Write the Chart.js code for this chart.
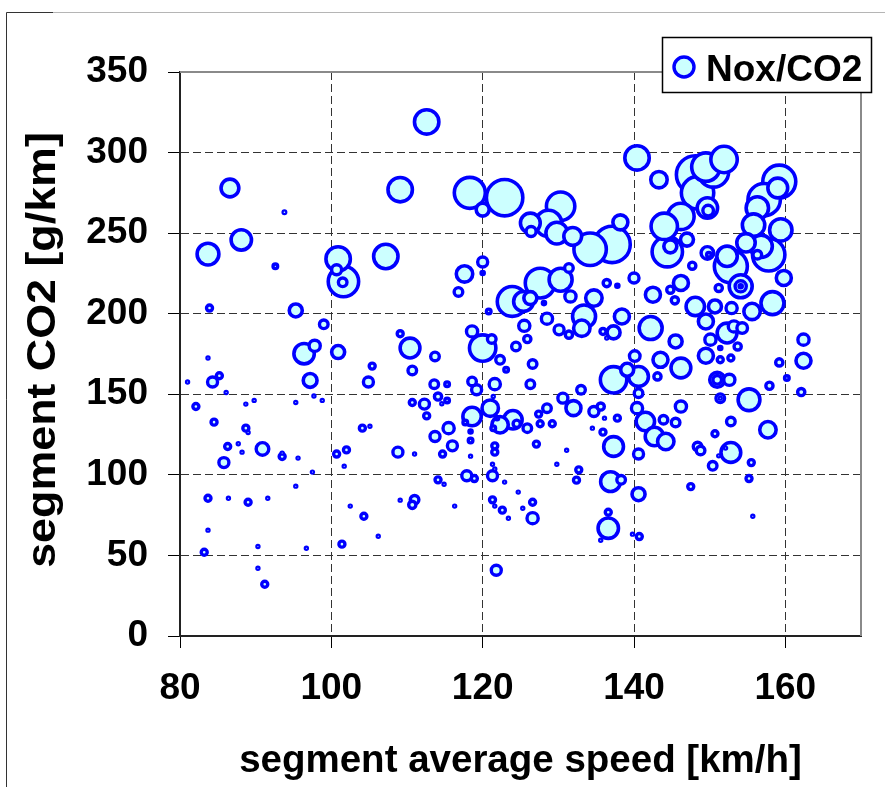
<!DOCTYPE html>
<html>
<head>
<meta charset="utf-8">
<script src="https://cdn.jsdelivr.net/npm/chart.js"></script>
<style>
    html, body { margin: 0; padding: 0; background: #fff; }
    canvas { display: block; }
</style>
</head>
<body>
<canvas id="bubbleChart" width="885" height="787"></canvas>
<script>
// segment average speed [km/h]
var speed = [
    86.6, 93.8, 88.1, 83.7, 100.9, 100.7, 101.6, 101.5, 107.2, 109.1,
    112.6, 118.3, 120, 122.9, 126.3, 126.4, 128.7, 130.3, 129.8, 131.9,
    134.2, 137.1, 138.2, 140.4, 143.3, 148.1, 151.9, 149.5, 150.5, 148.4,
    149.7, 149.8, 146.2, 144, 144.4, 144.8, 147, 149.7, 152.3, 152.8,
    154.8, 156.8, 159, 159.2, 157.2, 156.3, 155.8, 159.4, 157.8, 159.8,
    158.3, 156.3, 149.9, 147.7, 146.2, 144.8, 145.4, 142.5, 140, 151.2,
    154.1, 154.1, 154.1, 155.6, 152.9, 150.7, 148.1, 149.5, 153.2, 154.3,
    142.2, 145.5, 143.5, 146.2, 140.1, 143.1, 140.6, 137.3, 139.1, 150.1,
    149.5, 151.4, 151.4, 152.8, 153.7, 152.3, 151, 151, 152.6, 151.4,
    151.4, 155.2, 157.9, 159.2, 160.2, 162.4, 162.4, 162.1, 140.6, 140.4,
    141.5, 143.9, 145.5, 146.2, 142.7, 144.2, 152.8, 150.7, 157.7, 148.4,
    148.8, 152.8, 152.1, 151.2, 150.4, 155.5, 155.2, 147.5, 140.6, 155.7,
    140.6, 137.3, 138.3, 136.9, 136.6, 136.6, 135.6, 139.8, 140.7, 121.8,
    120, 120, 117.6, 116.8, 120.8, 123.9, 125.4, 126.3, 127.6, 130.3,
    131.4, 131.6, 128.1, 128.5, 125.5, 125.9, 124.4, 130.1, 131.4, 133.4,
    133.1, 134.7, 136.4, 137.8, 138.4, 135.9, 137.3, 136.4, 118.6, 120,
    121.2, 122.3, 123.1, 126.6, 126.3, 121.6, 118.6, 119.2, 113.7, 110.7,
    110.4, 113.6, 115.3, 114.1, 115.3, 114.6, 110.7, 112.3, 112.6, 118.6,
    117.7, 121, 121.4, 122.3, 124, 124.5, 125.9, 121.9, 121.4, 127.6,
    129.2, 127.4, 128.5, 130.6, 132, 133, 134.7, 135.6, 136.1, 137.8,
    134.5, 135.9, 113.7, 115.5, 118.4, 118.4, 116, 111, 114.7, 118.4,
    121.6, 121.6, 127.1, 131.1, 121.3, 121.6, 121.3, 117.9, 118.9, 114.1,
    114.9, 122.9, 129.8, 132.7, 132.4, 111, 110.7, 116.3, 121.3, 121.6,
    122.6, 123.4, 124.7, 125.3, 126.6, 126.6, 83.9, 95.3, 99,
    96.4, 97.8, 100.9, 83.7, 85.2, 84.3, 81, 97.2, 109.1, 105.4,
    104.9, 86.1, 82.1, 88.7, 89.8, 95.3, 97.7, 98.8, 84.5, 88.7,
    89, 104.1, 105.1, 86.3, 87.7, 88.2, 90.9, 85.8, 93.5, 93.5,
    95.6, 97.5, 100.7, 102, 101.7, 108.8, 95.3, 83.7, 86.4, 89,
    91.6, 102.5, 104.3, 106.2, 109.1, 83.7, 83.2, 90.3, 96.7, 101.4,
    90.3, 91.2, 92.6
];

// segment CO2 [g/km]
var co2 = [
    278, 263, 245.8, 237, 234, 227.3, 220, 219.5, 235.5, 277,
    319, 275, 264.6, 272, 256.3, 251, 256, 266.7, 250, 248,
    240, 243, 256.7, 296.7, 283.2, 286.3, 295.7, 291, 288, 275,
    265.6, 264, 260.4, 254.2, 238.5, 241.8, 246, 237.7, 235.6, 229.4,
    244, 241.8, 278, 282, 270.8, 265.6, 255, 252, 236.6, 222.2,
    206.6, 236.6, 236.6, 229.8, 219.1, 214.9, 208.3, 211.8, 222.2, 216,
    217, 217, 217, 201.4, 203.5, 204.5, 204.5, 195.2, 192.1, 191.1,
    191.1, 182.8, 171.4, 166.3, 173.7, 161.1, 161.1, 159, 165.2, 183.9,
    173.9, 171.4, 178.7, 172.5, 179.7, 188, 159, 159, 159, 147.6,
    147.6, 146.6, 155.3, 169.8, 160.1, 183.9, 170.8, 151.4, 150.7, 141.4,
    133.1, 134.2, 132.5, 142.4, 123.8, 120.7, 133.1, 125.5, 128, 117.6,
    115.1, 113.9, 116.6, 111.8, 105.6, 107.6, 97.7, 92.7, 88, 74.3,
    112.9, 117.6, 96.9, 95.8, 76.8, 66.9, 59.4, 63.2, 61.7, 40.8,
    232.1, 225.3, 224.7, 213.5, 201.4, 207.6, 207.6, 209.7, 219, 221.1,
    228.4, 210.7, 206.6, 196.9, 192.5, 184.3, 179.7, 190, 187, 198.3,
    191, 209.7, 219, 217.4, 198.3, 189, 188.4, 184.9, 189, 178.7,
    184.3, 171.4, 165.2, 168.8, 156.3, 156.3, 158, 152.8, 173.5, 164.8,
    178.7, 156.3, 156.3, 148.6, 146.2, 144.1, 144.9, 143.9, 136.6, 136.2,
    132.5, 141.4, 148.6, 131.1, 134.2, 131.7, 129, 135.2, 129, 131.7,
    131.7, 137.7, 141.4, 147.6, 141.4, 152.8, 139.3, 142.4, 135.2, 135.2,
    129, 126.5, 123.8, 129, 126.9, 121.3, 118, 112.9, 112.9, 111.6,
    118, 114.1, 119.1, 115.3, 106.6, 103.7, 99.4, 99.4, 97.7, 96.9,
    94.2, 95.5, 106.6, 103.1, 96.7, 84.5, 81.4, 80.6, 84.5, 80.6,
    78.1, 73.1, 89.3, 79.3, 83, 73.1, 203.5, 202, 193.4,
    175.2, 180.1, 176.2, 172.5, 161.5, 157.6, 157.6, 158.6, 187.6, 167.5,
    157.6, 151.1, 142.4, 143.9, 146.2, 144.9, 148.9, 146.2, 132.7, 129,
    126.3, 129, 130.2, 117.6, 119.3, 114.1, 116.1, 107.6, 113.5, 111.4,
    110.4, 101.7, 112.9, 115.5, 105.4, 114.1, 93, 85.5, 85.5, 83,
    85.5, 80.6, 74.3, 61.9, 84.3, 65.7, 52, 55.5, 54.5, 57,
    42, 32.1, 229.4
];

// bubble size (Nox/CO2), as outer radius in px
var size = [
    10.7, 3, 12, 12.7, 14, 6.7, 17, 6, 14, 14,
    14, 17.3, 8.3, 20, 11.7, 6.7, 15, 16, 12.7, 10.7,
    18, 20, 9.3, 14, 10, 20.7, 15, 16, 17, 18,
    12, 7, 15, 15, 17, 8.3, 8.3, 8, 12, 18.3,
    11, 13, 11.7, 18.3, 18, 13, 13, 13, 18, 9.3,
    13.3, 6, 4, 5.3, 9.3, 5.3, 5.3, 9.3, 6.7, 5.3,
    13.3, 7.3, 3.3, 10, 7.3, 8.3, 11, 9.3, 7.3, 7,
    13.3, 8.3, 9.3, 11.7, 7, 5.3, 11.7, 15, 8.3, 7.3,
    9.3, 4.7, 3.3, 4.7, 5.3, 11.7, 9.3, 6, 7.3, 6,
    2.7, 12.7, 5.3, 5.3, 4, 7.3, 9.3, 5.3, 6, 7.3,
    11, 6, 6, 7.3, 11, 10, 6, 4.7, 10, 6,
    6, 11.7, 2.7, 2.7, 6, 4.7, 4.7, 4.7, 8.3, 2.7,
    6.7, 11.7, 6, 11.7, 4.7, 12, 2.7, 2.7, 4.7, 6.7,
    6.7, 3.3, 10, 6, 4, 16.7, 11.7, 8.3, 16.7, 13.3,
    6, 7.3, 3.3, 7.3, 7.3, 5.3, 6, 6.7, 5.3, 13.3,
    10, 10, 5.3, 3.3, 9.3, 4.7, 8.3, 2.7, 7.3, 15,
    6, 6, 4, 6, 6, 7.3, 6, 6.7, 6, 6,
    11.7, 6, 4, 5.3, 4, 2.7, 4.7, 6.7, 4.7, 11,
    4, 10, 2.7, 10, 11, 5.3, 6, 3.3, 4, 4.7,
    4.7, 4.7, 6, 6.7, 9.3, 6, 6.7, 5.3, 2.7, 4.7,
    2.7, 4.7, 6.7, 7.3, 3.3, 4, 6.7, 2.7, 4.7, 2.7,
    4.7, 4.7, 4.7, 2.7, 2.7, 2.7, 6.7, 6.7, 4.7, 4.7,
    2.7, 2.7, 2.7, 4.7, 4.7, 6, 5.3, 2.7, 4.7, 2.7,
    4.7, 2.7, 2.7, 2.7, 4.7, 7.3, 4.7, 8.3, 6,
    12, 7.3, 8.3, 2.7, 4.7, 6.7, 2.7, 8.7, 4.7, 4.7,
    6.7, 2.7, 4.7, 2.7, 2.7, 2.7, 2.7, 2.7, 4.7, 4.7,
    2.7, 4.7, 2.7, 4.7, 2.7, 2.7, 8, 6.7, 2.7, 4.7,
    2.7, 2.7, 4.7, 4.7, 2.7, 6.7, 2.7, 4.7, 2.7, 4.7,
    2.7, 2.7, 4.7, 2.7, 2.7, 2.7, 4.7, 2.7, 2.7, 4.7,
    2.7, 4.7, 4
];

var xTicks = [80, 100, 120, 140, 160];
var seriesName = 'Nox/CO2';
var yTitle = 'segment CO2 [g/km]';

var FONT = "'Liberation Sans', Arial, Helvetica, sans-serif";
var FILL = '#ccffff';
var EDGE = '#0000ff';

// ring thickness: a bit thinner on the tiny bubbles so a pin-hole stays visible
function ring(R) {
    if (R <= 3) return 2.2;
    if (R <= 8) return 3.4;
    return 3.6;
}

var points = speed.map(function (s, i) {
    return { x: s, y: co2[i], r: size[i] - ring(size[i]) / 2, R: size[i] };
});
// big ones underneath, small ones on top
points.sort(function (a, b) { return b.R - a.R; });

var framePlugin = {
    id: 'frame',
    beforeDraw: function (chart) {
        var ctx = chart.ctx;
        ctx.save();
        ctx.fillStyle = '#fff';
        ctx.fillRect(0, 0, chart.width, chart.height);
        ctx.restore();
    },
    afterDraw: function (chart) {
        var ctx = chart.ctx;
        var a = chart.chartArea;
        ctx.save();

        // top / right edge of the plot area
        ctx.strokeStyle = '#8a8a8a';
        ctx.lineWidth = 2;
        ctx.beginPath();
        ctx.moveTo(a.left, a.top);
        ctx.lineTo(a.right, a.top);
        ctx.lineTo(a.right, a.bottom);
        ctx.stroke();

        // outer frame (left + top)
        ctx.lineWidth = 1;
        ctx.strokeStyle = '#333';
        ctx.beginPath();
        ctx.moveTo(6.5, 12.5);
        ctx.lineTo(6.5, chart.height);
        ctx.moveTo(6.5, 12.5);
        ctx.lineTo(53, 12.5);
        ctx.stroke();
        ctx.strokeStyle = '#b5b5b5';
        ctx.beginPath();
        ctx.moveTo(53, 12.5);
        ctx.lineTo(chart.width, 12.5);
        ctx.stroke();

        // y axis title, a little stretched along its length like the original
        ctx.save();
        ctx.translate(44, (a.top + a.bottom) / 2 - 4);
        ctx.rotate(-Math.PI / 2);
        ctx.scale(1.12, 1);
        ctx.fillStyle = '#000';
        ctx.font = 'bold 40px ' + FONT;
        ctx.textAlign = 'center';
        ctx.textBaseline = 'middle';
        ctx.fillText(yTitle, 0, 0);
        ctx.restore();

        // legend box
        ctx.fillStyle = '#fff';
        ctx.fillRect(662, 37, 209, 55);
        ctx.strokeStyle = '#000';
        ctx.lineWidth = 1.5;
        ctx.strokeRect(662.5, 37.5, 209, 55);

        ctx.beginPath();
        ctx.arc(684, 67, 10, 0, Math.PI * 2);
        ctx.fillStyle = FILL;
        ctx.fill();
        ctx.lineWidth = 3.4;
        ctx.strokeStyle = EDGE;
        ctx.stroke();

        ctx.fillStyle = '#000';
        ctx.font = 'bold 37px ' + FONT;
        ctx.textAlign = 'left';
        ctx.textBaseline = 'alphabetic';
        ctx.fillText(seriesName, 706, 81);
        ctx.restore();
    }
};

new Chart(document.getElementById('bubbleChart').getContext('2d'), {
    type: 'bubble',
    data: {
        datasets: [{
            label: seriesName,
            data: points,
            backgroundColor: FILL,
            borderColor: EDGE,
            borderWidth: function (c) { return c.raw ? ring(c.raw.R) : 3; },
            hoverRadius: 0,
            clip: false
        }]
    },
    plugins: [framePlugin],
    options: {
        responsive: false,
        animation: false,
        events: [],
        layout: { padding: { top: 72, right: 24, left: 0, bottom: 0 } },
        plugins: {
            legend: { display: false },
            tooltip: { enabled: false }
        },
        scales: {
            x: {
                type: 'linear',
                min: 80,
                max: 170,
                afterBuildTicks: function (s) {
                    s.ticks = xTicks.map(function (v) { return { value: v }; });
                },
                afterFit: function (s) { s.height = 151; },
                ticks: {
                    color: '#000',
                    font: { family: FONT, size: 37, weight: 'bold' },
                    padding: 19,
                    maxRotation: 0,
                    autoSkip: false
                },
                grid: { color: '#333', lineWidth: 1, tickLength: 12, tickColor: '#000', tickWidth: 1 },
                border: { color: '#222', width: 2, dash: [8, 4] },
                title: {
                    display: true,
                    text: 'segment average speed [km/h]',
                    color: '#000',
                    font: { family: FONT, size: 38.5, weight: 'bold' },
                    padding: { top: 0, bottom: 3 }
                }
            },
            y: {
                type: 'linear',
                min: 0,
                max: 350,
                afterFit: function (s) { s.width = 180; },
                ticks: {
                    stepSize: 50,
                    color: '#000',
                    font: { family: FONT, size: 37, weight: 'bold' },
                    padding: 20,
                    autoSkip: false
                },
                grid: { color: '#333', lineWidth: 1, tickLength: 12, tickColor: '#000', tickWidth: 1 },
                border: { color: '#222', width: 2, dash: [8, 4] },
                title: { display: false }
            }
        }
    }
});
</script>
</body>
</html>
